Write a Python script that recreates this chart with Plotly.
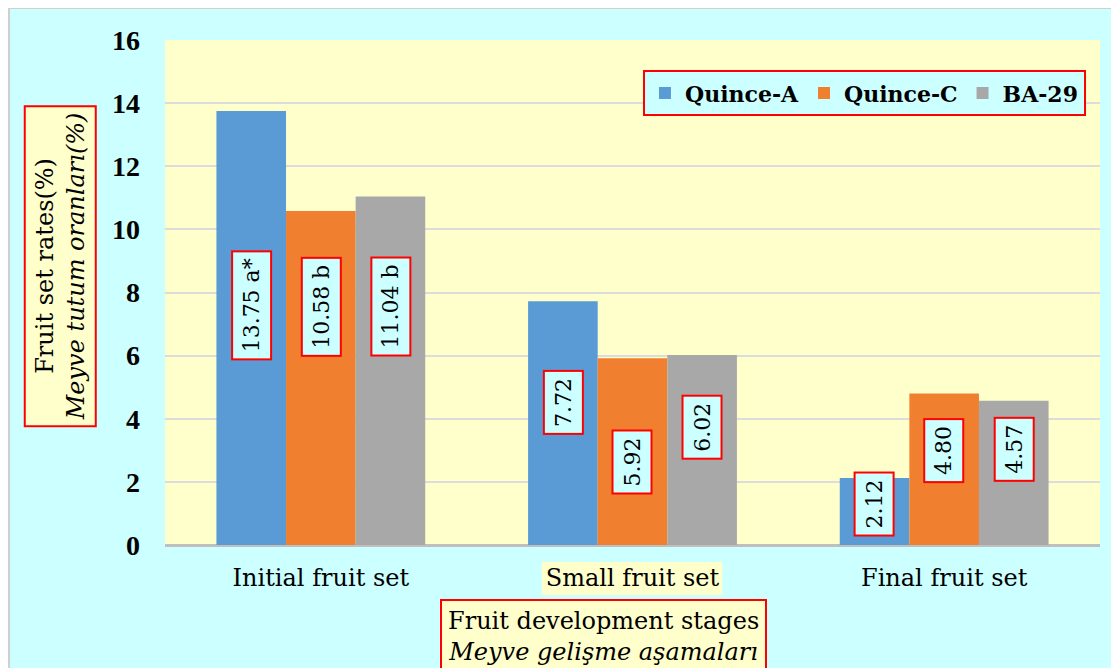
import plotly.graph_objects as go

categories = ["Initial fruit set", "Small fruit set", "Final fruit set"]
series_names = ["Quince-A", "Quince-C", "BA-29"]
quince_a = [13.75, 7.72, 2.12]
quince_c = [10.58, 5.92, 4.80]
ba_29 = [11.04, 6.02, 4.57]
labels_a = ["13.75 a*", "7.72", "2.12"]
labels_c = ["10.58 b", "5.92", "4.80"]
labels_b = ["11.04 b", "6.02", "4.57"]
y_ticks = [0, 2, 4, 6, 8, 10, 12, 14, 16]

# label anchor heights (layout positions, in axis units)
label_y_a = [7.60, 4.53, 1.30]
label_y_c = [7.54, 2.63, 2.98]
label_y_b = [7.57, 3.72, 3.04]

colors = ["#5B9BD5", "#F07F30", "#A8A8A8"]
serif = "DejaVu Serif"

fig = go.Figure()
for name, vals, col in zip(series_names, [quince_a, quince_c, ba_29], colors):
    fig.add_trace(go.Bar(x=categories, y=vals, name=name,
                         marker=dict(color=col, line=dict(width=0))))

bargap = 0.33
bw = (1 - bargap) / 3
offsets = [-bw, 0, bw]
annotations = []
for s, (labs, ys) in enumerate(zip([labels_a, labels_c, labels_b],
                                   [label_y_a, label_y_c, label_y_b])):
    for i, (t, yv) in enumerate(zip(labs, ys)):
        annotations.append(dict(
            x=i + offsets[s], y=yv, xref="x", yref="y", text=t,
            xanchor="center", yanchor="middle",
            showarrow=False, textangle=-90,
            font=dict(family=serif, size=22, color="black"),
            bgcolor="#CCFFFF", bordercolor="#FF0000", borderwidth=2, borderpad=6))

annotations.append(dict(
    x=-0.1123, y=0.552, xref="paper", yref="paper", xanchor="center", yanchor="middle",
    text="Fruit set rates(%)<br><i>Meyve tutum oranları(%)</i>",
    showarrow=False, textangle=-90,
    font=dict(family=serif, size=24, color="black"),
    bgcolor="#FFFFCC", bordercolor="#FF0000", borderwidth=2, borderpad=5))

annotations.append(dict(
    x=0.4695, y=-0.107, xref="paper", yref="paper", xanchor="center", yanchor="top",
    text="Fruit development stages<br><i>Meyve gelişme aşamaları</i>",
    showarrow=False,
    font=dict(family=serif, size=24, color="black"),
    bgcolor="#FFFFCC", bordercolor="#FF0000", borderwidth=2, borderpad=6))

shapes = [
    dict(type="rect", xref="paper", yref="paper", x0=0.403, x1=0.596, y0=-0.099, y1=-0.0337,
         fillcolor="#FFFFCC", line=dict(width=0), layer="below"),
    dict(type="line", xref="paper", yref="paper", x0=-0.1668, x1=-0.1668, y0=-0.4, y1=1.0634,
         line=dict(color="#D0D0D0", width=2), layer="above"),
    dict(type="line", xref="paper", yref="paper", x0=-0.1668, x1=1.1, y0=1.0634, y1=1.0634,
         line=dict(color="#D0D0D0", width=2), layer="above"),
]

fig.update_layout(
    width=1119, height=668,
    margin=dict(l=157, r=27, t=32, b=131),
    paper_bgcolor="#CCFFFF", plot_bgcolor="#FFFFCC",
    barmode="group", bargap=bargap, bargroupgap=0,
    showlegend=True,
    legend=dict(orientation="h", x=0.985, xanchor="right", y=0.94, yanchor="top",
                bgcolor="#CCFFFF", bordercolor="#FF0000", borderwidth=2,
                font=dict(family=serif, size=22, color="black", weight="bold"),
                itemwidth=30, traceorder="normal"),
    xaxis=dict(showgrid=False, showline=False, ticks="",
               tickfont=dict(family=serif, size=24, color="black"),
               ticklabelstandoff=16),
    yaxis=dict(range=[0, 16], tickvals=y_ticks, showgrid=True, gridcolor="#DCDCDC",
               gridwidth=2, zeroline=True, zerolinecolor="#BFBFBF", zerolinewidth=3,
               showline=False, ticks="",
               tickfont=dict(family="Liberation Serif", size=28, color="black", weight="bold"),
               ticklabelstandoff=24),
    annotations=annotations,
    shapes=shapes,
)

fig.write_html("out.html")
